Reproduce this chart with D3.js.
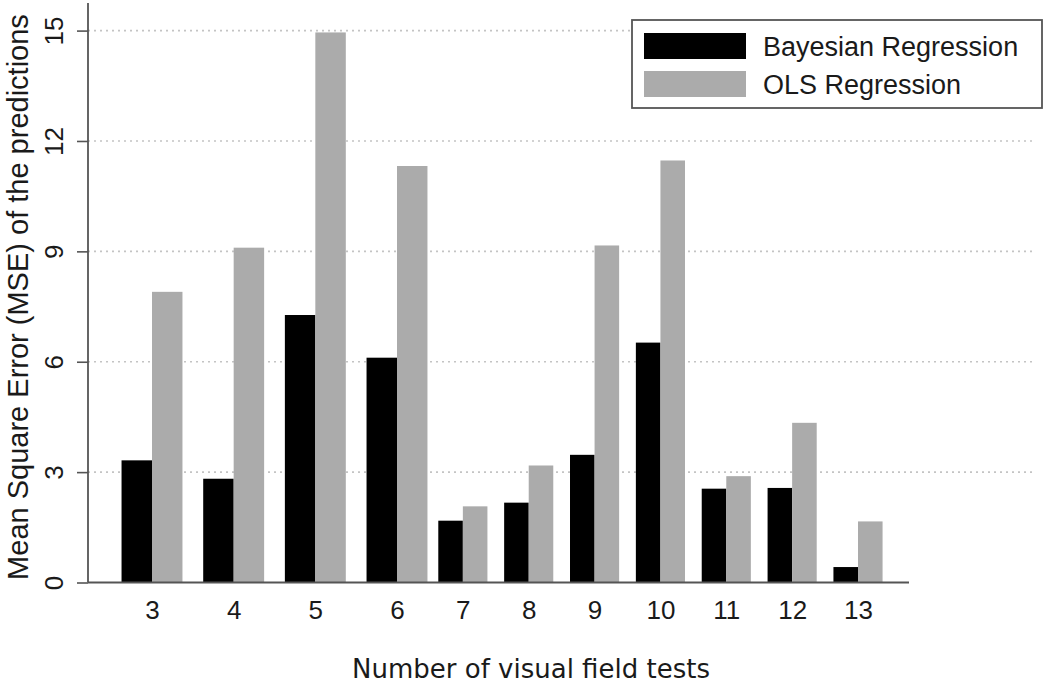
<!DOCTYPE html>
<html>
<head>
<meta charset="utf-8">
<script src="https://cdn.jsdelivr.net/npm/d3@7"></script>
<style>
  body { margin: 0; background: #fff; }
  svg { display: block; }
</style>
</head>
<body>
<svg id="chart" width="1050" height="685"></svg>
<script>
const tests = [3, 4, 5, 6, 7, 8, 9, 10, 11, 12, 13];
const bayesian = [3.32, 2.82, 7.27, 6.11, 1.68, 2.17, 3.47, 6.52, 2.55, 2.57, 0.42];
const ols = [7.9, 9.1, 14.95, 11.32, 2.07, 3.18, 9.16, 11.47, 2.89, 4.34, 1.66];
const yTicks = [0, 3, 6, 9, 12, 15];
const seriesNames = ["Bayesian Regression", "OLS Regression"];
const seriesColors = ["#000000", "#ababab"];

const svg = d3.select("#chart");
const axisColor = "#555";
const textColor = "#1a1a1a";

const plot = { left: 88, right: 909, gridRight: 1032, bottom: 582.5, top: 3 };

// the source figure is wider on the left groups than on the right ones
const x = d3.scaleLinear().domain([3, 6, 13]).range([152, 397, 858]);
const y = d3.scaleLinear().domain([0, 15.75]).range([plot.bottom, plot.top]);
const barW = (v) => 0.373 * (x(v) - x(v - 1));

// grid
svg
  .append("g")
  .selectAll("line")
  .data(yTicks.filter((d) => d > 0))
  .enter()
  .append("line")
  .attr("x1", plot.left)
  .attr("x2", plot.gridRight)
  .attr("y1", (d) => y(d))
  .attr("y2", (d) => y(d))
  .attr("stroke", "#c4c4c4")
  .attr("stroke-width", 1.6)
  .attr("stroke-dasharray", "2,4");

const rows = tests.map((t, i) => ({ t, b: bayesian[i], o: ols[i] }));

svg
  .append("g")
  .selectAll("rect")
  .data(rows)
  .enter()
  .append("rect")
  .attr("x", (d) => x(d.t) - barW(d.t))
  .attr("width", (d) => barW(d.t))
  .attr("y", (d) => y(d.b))
  .attr("height", (d) => y(0) - y(d.b))
  .attr("fill", seriesColors[0]);

svg
  .append("g")
  .selectAll("rect")
  .data(rows)
  .enter()
  .append("rect")
  .attr("x", (d) => x(d.t))
  .attr("width", (d) => barW(d.t))
  .attr("y", (d) => y(d.o))
  .attr("height", (d) => y(0) - y(d.o))
  .attr("fill", seriesColors[1]);

// y axis
const yAxis = svg
  .append("g")
  .attr("transform", `translate(${plot.left},0)`)
  .call(d3.axisLeft(y).tickValues(yTicks).tickSize(11).tickPadding(0));
yAxis.select(".domain").remove();
yAxis.selectAll(".tick line").attr("stroke", axisColor).attr("stroke-width", 1.6);
yAxis
  .selectAll(".tick text")
  .attr("transform", "rotate(-90)")
  .attr("x", 0)
  .attr("y", -25)
  .attr("dy", 0)
  .attr("text-anchor", "middle")
  .attr("fill", textColor)
  .style("font-family", "'Liberation Sans', Arial, sans-serif")
  .style("font-size", "26px");

svg
  .append("line")
  .attr("x1", plot.left)
  .attr("x2", plot.left)
  .attr("y1", plot.top)
  .attr("y2", plot.bottom)
  .attr("stroke", axisColor)
  .attr("stroke-width", 1.8);

// x axis
svg
  .append("line")
  .attr("x1", plot.left)
  .attr("x2", plot.right)
  .attr("y1", plot.bottom)
  .attr("y2", plot.bottom)
  .attr("stroke", axisColor)
  .attr("stroke-width", 1.8);

const xAxis = svg
  .append("g")
  .attr("transform", `translate(0,${plot.bottom})`)
  .call(d3.axisBottom(x).tickValues(tests).tickSize(0).tickPadding(0));
xAxis.select(".domain").remove();
xAxis
  .selectAll(".tick text")
  .attr("y", 36)
  .attr("dy", 0)
  .attr("fill", textColor)
  .style("font-family", "'Liberation Sans', Arial, sans-serif")
  .style("font-size", "26px");

// titles
svg
  .append("text")
  .attr("x", 531)
  .attr("y", 678)
  .attr("text-anchor", "middle")
  .attr("fill", textColor)
  .style("font-family", "'DejaVu Sans', Verdana, sans-serif")
  .style("font-size", "26px")
  .text("Number of visual field tests");

svg
  .append("text")
  .attr("transform", "translate(28,297) rotate(-90)")
  .attr("text-anchor", "middle")
  .attr("fill", textColor)
  .style("font-family", "'Liberation Sans', Arial, sans-serif")
  .style("font-size", "29px")
  .text("Mean Square Error (MSE) of the predictions");

// legend
const legend = svg.append("g");
legend
  .append("rect")
  .attr("x", 632)
  .attr("y", 20)
  .attr("width", 410)
  .attr("height", 88)
  .attr("fill", "#fff")
  .attr("stroke", axisColor)
  .attr("stroke-width", 1.8);

const item = legend
  .selectAll(".item")
  .data(seriesNames)
  .enter()
  .append("g")
  .attr("transform", (d, i) => `translate(644,${33 + i * 38})`);
item
  .append("rect")
  .attr("width", 102)
  .attr("height", 26)
  .attr("fill", (d, i) => seriesColors[i]);
item
  .append("text")
  .attr("x", 119)
  .attr("y", 23)
  .attr("fill", textColor)
  .style("font-family", "'Liberation Sans', Arial, sans-serif")
  .style("font-size", "27px")
  .text((d) => d);
</script>
</body>
</html>
